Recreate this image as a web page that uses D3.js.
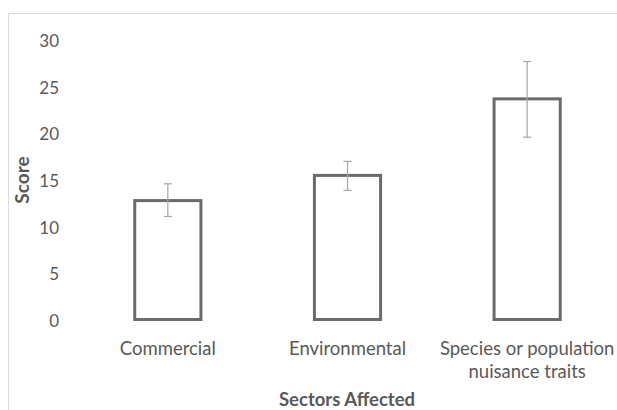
<!DOCTYPE html>
<html>
<head>
<meta charset="utf-8">
<script src="https://cdn.jsdelivr.net/npm/d3@7"></script>
<style>
  html, body { margin: 0; padding: 0; background: #fff; }
  svg text { font-family: Lato, "Open Sans", sans-serif; fill: #595959; }
</style>
</head>
<body>
<svg id="chart" width="617" height="410"></svg>
<script>
const categories = [["Commercial"], ["Environmental"], ["Species or population", "nuisance traits"]];
const categoryKeys = ["Commercial", "Environmental", "Species or population nuisance traits"];
const scores = [12.9, 15.6, 23.8];
const errLow = [11.2, 14.0, 19.7];
const errHigh = [14.7, 17.1, 27.8];
const yTicks = [0, 5, 10, 15, 20, 25, 30];

const svg = d3.select("#chart");
const W = 617, H = 410;

// outer chart border (top and left visible)
svg.append("line").attr("x1", 8.5).attr("x2", W).attr("y1", 13.5).attr("y2", 13.5)
  .attr("stroke", "#d9d9d9").attr("stroke-width", 1);
svg.append("line").attr("x1", 8.5).attr("x2", 8.5).attr("y1", 13.5).attr("y2", H)
  .attr("stroke", "#d9d9d9").attr("stroke-width", 1);

const y = d3.scaleLinear().domain([0, 30]).range([321, 41]);
const x = d3.scaleBand().domain(categoryKeys).range([78, 617])
  .paddingInner(0.615).paddingOuter(0.3075);

// y axis labels
const yAxis = d3.axisLeft(y).tickValues(yTicks).tickSize(0).tickPadding(0).tickFormat(d3.format("d"));
const gy = svg.append("g").attr("transform", "translate(59,0)").call(yAxis);
gy.select(".domain").remove();
gy.selectAll("text").style("font-size", "17px").attr("fill", "#595959");

// bars
const data = categoryKeys.map((k, i) => ({ k, v: scores[i], lo: errLow[i], hi: errHigh[i], lines: categories[i] }));
svg.append("g").selectAll("rect").data(data).join("rect")
  .attr("x", d => x(d.k) + 1.5)
  .attr("y", d => y(d.v))
  .attr("width", x.bandwidth() - 3)
  .attr("height", d => y(0) - y(d.v) - 1.5)
  .attr("fill", "#fff").attr("stroke", "#6b6b6b").attr("stroke-width", 3);

// error bars
const eg = svg.append("g").attr("stroke", "#a6a6a6").attr("stroke-width", 1.2);
data.forEach(d => {
  const cx = x(d.k) + x.bandwidth() / 2;
  eg.append("line").attr("x1", cx).attr("x2", cx).attr("y1", y(d.hi)).attr("y2", y(d.lo));
  eg.append("line").attr("x1", cx - 4).attr("x2", cx + 4).attr("y1", y(d.hi)).attr("y2", y(d.hi));
  eg.append("line").attr("x1", cx - 4).attr("x2", cx + 4).attr("y1", y(d.lo)).attr("y2", y(d.lo));
});

// x axis labels
const xl = svg.append("g");
data.forEach(d => {
  const cx = x(d.k) + x.bandwidth() / 2;
  const t = xl.append("text").attr("x", cx).attr("y", 355).attr("text-anchor", "middle")
    .style("font-size", "18.5px");
  d.lines.forEach((ln, j) => {
    t.append("tspan").attr("x", cx).attr("dy", j === 0 ? 0 : 23).text(ln);
  });
});

// axis titles
svg.append("text").attr("x", 347).attr("y", 406).attr("text-anchor", "middle")
  .style("font-size", "18.5px").style("font-weight", "bold").text("Sectors Affected");
svg.append("text").attr("transform", "translate(29,180) rotate(-90)").attr("text-anchor", "middle")
  .style("font-size", "19px").style("font-weight", "bold").text("Score");
</script>
</body>
</html>
